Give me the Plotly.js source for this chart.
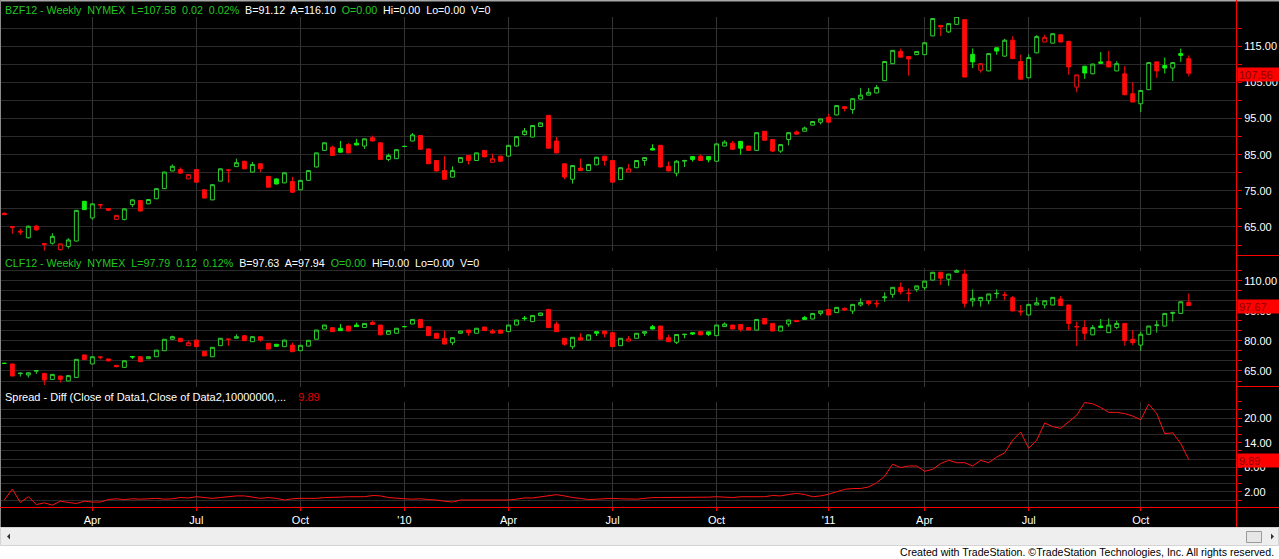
<!DOCTYPE html>
<html><head><meta charset="utf-8">
<script src="https://cdn.plot.ly/plotly-3.0.1.min.js"></script>
<style>html,body{margin:0;padding:0;background:#fff;overflow:hidden}#chart{width:1279px;height:559px}</style>
</head><body><div id="chart"></div>
<script>
// ---------- DATA (weekly bars) ----------
const startDate = '2009-01-16';   // first weekly bar (Friday)
const monthNames = ['Jan','Feb','Mar','Apr','May','Jun','Jul','Aug','Sep','Oct','Nov','Dec'];

const brentOpen = [68.8,65.1,63.8,62.0,65.2,60.4,60.5,58.7,59.6,61.1,
72.1,67.5,71.2,70.1,67.1,67.1,71.2,72.3,71.4,72.8,
75.6,80.5,80.9,78.3,80.9,75.3,72.5,77.7,80.8,81.7,
83.2,80.2,82.5,79.0,78.3,77.2,77.6,75.3,77.9,81.6,
86.2,87.1,86.7,87.8,88.2,87.4,89.7,88.3,83.7,83.9,
87.3,88.8,90.3,86.6,83.4,80.6,78.8,82.9,84.8,83.4,
86.2,82.9,84.6,84.6,87.4,90.6,89.9,92.8,95.9,88.8,
82.5,78.2,81.3,80.6,82.2,84.6,83.4,78.1,80.2,81.4,
83.4,86.7,87.6,81.8,79.9,83.2,84.5,84.6,84.5,83.2,
87.4,88.2,88.7,87.4,86.2,91.5,89.2,86.0,89.2,91.3,
91.5,93.2,94.0,95.4,96.0,98.3,97.5,100.4,101.5,102.1,
105.5,110.2,113.6,112.2,112.7,112.7,117.9,120.8,119.0,121.1,
122.4,112.8,108.4,108.2,114.6,112.3,116.7,110.8,106.3,113.2,
116.2,115.9,118.2,116.4,103.7,109.5,107.4,110.7,110.8,108.2,
107.4,101.9,99.1,103.0,110.7,109.7,109.0,113.0,111.6];
const brentHigh = [69.0,65.1,64.5,65.4,65.6,60.5,63.3,60.4,61.9,69.7,
72.2,71.5,71.3,70.2,68.3,70.2,72.6,72.4,72.7,75.7,
80.3,82.3,81.5,79.6,81.0,75.4,76.8,81.2,80.9,83.9,
83.3,83.0,82.6,79.1,78.4,80.1,78.9,78.0,80.7,85.6,
88.4,87.5,88.8,88.2,89.4,89.5,90.3,88.4,85.3,86.5,
87.4,91.0,90.4,86.7,83.5,84.6,81.8,84.3,84.9,85.6,
86.3,85.3,84.7,87.7,90.1,92.4,93.2,93.9,96.0,89.9,
82.6,82.1,83.9,82.4,84.4,84.7,83.5,81.5,82.4,83.5,
84.3,87.9,87.7,83.1,83.5,83.6,84.6,85.0,84.6,88.1,
89.0,88.8,88.8,87.5,91.2,91.6,89.3,87.9,91.2,91.7,
92.8,94.3,95.0,96.3,98.7,98.4,100.6,103.5,103.5,104.3,
110.9,114.0,114.4,112.3,113.7,116.1,122.8,120.9,121.4,123.4,
122.5,114.4,110.3,113.1,114.7,117.1,117.8,112.7,112.8,118.1,
118.2,118.6,118.3,116.5,107.2,109.6,110.2,113.4,113.7,110.9,
109.6,105.1,102.9,110.6,110.8,111.9,110.6,114.4,112.5];
const brentLow = [68.3,63.1,62.8,61.8,64.0,58.4,60.1,58.5,59.0,61.0,
69.7,67.0,70.0,69.5,67.0,66.8,70.5,69.3,71.3,72.7,
75.5,80.4,79.8,78.2,77.3,72.9,72.4,77.6,77.2,81.6,
81.0,80.1,80.2,75.9,76.8,77.1,74.5,75.2,77.8,81.5,
86.1,84.7,85.6,85.4,87.6,86.6,88.7,83.6,83.2,83.8,
87.2,88.7,86.4,82.4,80.4,78.1,78.7,82.8,82.3,83.3,
84.3,82.8,83.1,84.5,87.3,90.3,89.8,92.7,86.7,85.4,
78.2,77.0,80.5,80.5,82.1,82.0,77.3,78.0,80.1,81.3,
82.0,86.2,81.5,80.4,79.0,81.6,83.1,83.3,82.9,83.1,
87.3,86.4,85.0,86.1,86.1,88.9,85.7,85.5,87.6,90.6,
91.4,93.1,93.4,93.9,95.9,97.0,96.3,100.3,101.4,102.0,
105.4,110.1,111.9,106.9,112.6,112.6,117.8,117.9,118.7,121.0,
106.4,109.0,107.7,108.1,112.7,112.2,111.5,105.8,106.2,113.1,
116.1,115.8,116.1,107.1,102.3,106.0,107.3,110.2,109.2,108.1,
101.5,99.5,96.8,102.9,106.3,107.5,105.4,110.7,106.7];
const brentClose = [68.4,64.9,63.6,65.2,64.2,60.2,62.4,60.3,61.4,69.6,
69.8,71.4,71.1,69.6,68.2,70.0,72.5,69.4,72.6,75.6,
80.2,81.8,79.9,79.5,77.4,73.0,76.7,81.1,80.7,82.8,
81.1,82.3,81.1,76.0,76.9,80.0,74.6,77.9,80.6,85.5,
88.3,84.8,85.7,85.5,87.7,89.4,88.8,83.7,84.8,86.4,
87.3,90.5,86.5,82.5,80.5,78.2,80.6,84.2,83.4,85.5,
84.4,83.9,83.2,87.6,90.0,91.6,93.1,93.8,86.8,85.5,
78.8,82.0,80.6,82.3,84.3,83.4,77.4,81.4,81.1,83.4,
84.2,86.3,81.6,80.5,83.2,83.4,83.7,83.4,83.6,88.0,
88.5,86.5,86.8,86.2,91.1,89.0,86.0,87.8,91.1,90.7,
92.4,94.2,94.9,94.0,98.6,97.8,100.5,101.5,102.3,103.6,
110.8,113.9,112.0,111.5,113.6,116.0,122.7,120.4,121.3,123.3,
106.5,110.7,110.2,113.0,113.7,116.7,111.6,105.9,111.9,117.7,
117.5,118.5,116.2,109.3,107.1,107.6,110.1,110.3,109.3,110.2,
101.6,99.6,102.8,110.5,108.2,109.0,110.5,112.5,107.56];

const wtiOpen = [68.8,68.5,63.7,63.0,64.9,63.8,60.8,62.5,60.0,61.8,
73.0,68.5,72.0,71.0,67.8,66.8,72.2,72.1,71.1,72.1,
75.1,80.8,81.3,77.6,80.4,74.8,72.1,77.6,80.9,81.3,
82.6,79.6,82.1,78.8,78.3,77.1,77.9,75.1,77.4,80.8,
85.9,86.6,86.3,87.4,87.9,86.7,89.2,87.9,83.3,83.8,
87.1,88.4,90.7,87.1,83.8,81.3,79.1,83.8,85.4,83.8,
86.9,84.9,85.4,84.6,87.9,91.4,89.6,92.6,95.7,88.4,
81.3,77.1,81.6,80.4,84.6,84.9,84.1,77.6,79.9,81.3,
83.8,87.1,87.4,81.6,79.3,83.1,84.1,84.6,84.5,82.6,
87.1,87.9,88.2,86.7,85.4,91.2,88.7,84.9,88.4,90.2,
91.6,90.9,93.7,95.7,94.1,96.2,94.9,97.9,99.9,98.8,
101.5,103.2,106.7,103.8,105.7,106.5,110.3,114.2,110.7,114.2,
113.3,99.9,100.0,100.0,103.5,103.0,101.5,94.7,92.9,97.9,
97.9,97.9,100.9,97.9,87.2,86.7,83.0,87.4,84.1,86.7,
88.7,80.8,77.9,83.3,87.7,87.4,93.7,93.7,99.2];
const wtiHigh = [69.1,68.6,64.0,64.2,65.3,63.9,63.4,62.6,62.8,70.9,
73.1,72.2,72.1,71.1,67.9,70.2,72.3,72.2,72.2,75.5,
80.9,82.6,81.4,80.1,80.5,74.9,76.9,81.4,81.0,83.3,
82.7,82.2,82.2,78.9,78.4,80.5,79.1,77.9,80.4,85.5,
88.0,86.7,88.4,87.5,89.1,88.8,90.1,88.0,85.2,86.4,
87.2,90.8,90.8,87.2,83.9,85.1,81.7,85.0,85.5,86.4,
87.0,85.9,85.5,88.0,90.5,92.4,92.8,94.0,95.8,89.6,
81.4,81.9,83.8,83.1,84.7,85.0,84.2,81.4,82.4,83.9,
84.7,87.9,87.5,83.0,83.3,83.4,84.2,84.7,84.6,88.0,
89.2,88.0,88.3,86.8,90.8,91.3,88.8,87.5,90.5,90.3,
92.4,93.8,95.0,95.8,96.8,96.7,98.3,101.2,100.0,100.4,
104.2,106.8,109.2,106.2,107.5,109.9,114.3,114.3,113.4,115.7,
115.7,105.7,101.8,103.5,105.7,104.5,102.4,97.9,98.3,101.7,
100.1,101.8,102.4,98.0,89.6,90.4,87.9,90.9,91.2,90.1,
88.8,85.4,84.6,87.5,90.1,93.8,94.3,99.6,103.7];
const wtiLow = [68.5,62.4,62.2,61.7,63.5,58.0,60.7,59.2,59.9,61.7,
70.6,68.4,70.8,69.9,66.9,66.7,71.0,69.5,71.0,72.0,
75.0,80.7,79.5,77.5,77.0,72.4,72.0,77.5,77.6,81.2,
80.0,79.5,79.6,75.8,77.2,77.0,74.5,75.0,77.3,80.7,
85.8,84.5,85.0,84.8,87.0,86.6,88.1,82.9,83.2,83.7,
87.0,88.3,86.5,82.5,81.2,78.3,77.9,83.7,82.6,83.7,
85.0,83.8,83.7,84.5,87.8,90.1,89.5,92.5,86.5,84.5,
77.6,75.9,80.3,80.3,82.4,81.8,77.0,77.5,79.8,81.2,
82.4,85.8,80.7,79.5,78.4,81.3,83.0,82.9,82.4,82.5,
87.0,85.8,84.6,85.3,85.3,88.3,84.8,84.8,87.1,89.5,
90.6,90.8,92.6,92.8,94.0,94.9,93.4,97.1,97.6,96.7,
99.5,101.5,103.2,99.5,104.5,105.4,110.2,107.9,107.4,114.1,
96.7,97.1,97.1,98.2,101.2,100.4,94.8,92.6,92.8,97.8,
96.2,97.8,97.5,85.4,77.4,80.4,82.9,86.2,84.0,85.8,
77.6,77.9,75.1,83.2,84.1,87.3,89.6,93.6,97.4];
const wtiClose = [68.8,62.5,63.9,64.1,65.2,60.5,63.3,60.8,62.7,70.8,
70.7,72.1,71.9,70.0,67.1,70.1,72.0,69.6,72.1,75.4,
80.8,82.1,79.6,79.1,77.1,72.5,76.8,81.3,80.8,82.1,
80.1,82.1,80.4,75.9,77.3,80.4,74.6,77.8,80.3,85.4,
87.9,84.6,85.1,84.9,87.1,88.7,88.2,83.0,85.1,86.3,
87.1,90.7,86.6,82.6,81.3,78.4,81.6,84.9,84.1,86.3,
85.1,83.9,83.8,87.9,90.4,91.1,92.7,93.9,86.6,84.6,
78.3,81.8,80.4,83.0,83.8,83.5,77.1,81.3,81.0,83.8,
84.6,85.9,80.8,79.6,83.2,83.3,83.4,83.0,83.2,87.9,
88.4,85.9,85.7,85.4,90.7,88.4,84.9,87.4,90.4,89.6,
90.7,93.7,94.9,92.9,96.7,95.4,98.2,99.2,98.6,98.5,
101.9,106.7,104.5,103.7,107.4,109.8,114.2,111.2,113.3,115.0,
98.7,101.2,101.7,103.4,103.7,102.8,94.9,94.5,98.2,99.0,
100.0,101.7,97.6,88.7,87.0,83.8,86.6,86.7,87.9,88.7,
80.1,79.1,83.3,87.4,87.9,93.7,94.2,99.5,97.67];

const spread = [0.0,2.65,-0.6,0.8,-1.1,-0.7,-1.25,-0.3,-0.6,-0.85,
-0.3,-0.5,-0.5,0.1,0.3,0.1,0.3,0.2,0.3,0.4,
0.2,0.3,0.6,0.5,0.8,0.6,0.4,0.6,0.8,1.0,
1.0,0.7,0.4,0.6,0.4,0.0,0.3,0.4,0.4,0.4,
0.6,0.6,0.7,0.8,0.8,0.8,1.1,1.0,0.6,0.4,
0.3,0.2,0.3,0.1,0.0,-0.3,-0.5,0.0,0.0,-0.1,
-0.1,0.0,0.05,0.0,0.2,0.5,0.5,0.8,1.1,1.3,
1.0,0.6,0.4,0.1,0.2,0.3,0.4,0.3,0.2,0.2,
0.4,0.6,0.6,0.6,0.6,0.6,0.6,0.7,0.7,0.8,
0.7,0.6,0.8,0.8,0.8,0.8,1.1,1.0,1.35,1.6,
1.35,0.8,1.0,1.4,2.0,2.6,2.8,2.8,3.2,4.2,
5.8,8.75,7.9,8.3,8.3,7.0,7.5,8.9,9.7,9.1,
9.1,8.3,9.7,9.1,10.5,11.5,14.6,16.6,12.6,14.6,
18.8,17.9,17.5,19.1,20.7,23.8,23.5,22.6,21.4,21.4,
21.1,20.5,19.6,23.4,21.1,16.2,16.4,13.8,9.89];

// ---------- LAYOUT GEOMETRY ----------
const W = 1279, H = 559, ML = 0, MR = 42, MT = 0, MB = 52;
const PW = W - ML - MR, PH = H - MT - MB;
const fx = px => (px - ML) / PW;
const fy = py => (PH + MT - py) / PH;

const GREEN_H = '#2ed02e', GREEN_F = '#10f010', RED_H = '#f01010', RED_F = '#ff0a0a';
const GRID_Y = '#2b2b2b', GRID_X = '#353535';
const FONT = 'Liberation Sans, Arial, sans-serif';
const HDR_GREEN = '#22c822';

// dates & quarter ticks
const N = brentClose.length;
const [sy, sm, sd] = startDate.split('-').map(Number);
const t0 = Date.UTC(sy, sm - 1, sd);
const dates = Array.from({length: N}, (_, i) => new Date(t0 + i * 7 * 86400000));
const idx = dates.map((_, i) => i);
const tickIdx = [], tickText = [];
for (let i = 1; i < N; i++) {
  const m = dates[i].getUTCMonth(), pm = dates[i - 1].getUTCMonth();
  if (m !== pm && m % 3 === 0) {
    tickIdx.push(i);
    tickText.push(m === 0 ? "'" + String(dates[i].getUTCFullYear()).slice(2) : monthNames[m]);
  }
}

function candleTraces(O, Hh, L, C, ya) {
  const groups = {hg: [], fg: [], hr: [], fr: []};
  for (let i = 0; i < C.length; i++) {
    const prev = i > 0 ? C[i - 1] : O[i];
    const up = C[i] >= prev;
    const hollow = C[i] > O[i];
    groups[(hollow ? 'h' : 'f') + (up ? 'g' : 'r')].push(i);
  }
  const styles = {
    hg: {line: GREEN_H, fill: '#000000'}, fg: {line: GREEN_F, fill: GREEN_F},
    hr: {line: RED_H, fill: '#000000'}, fr: {line: RED_F, fill: RED_F}
  };
  return Object.keys(groups).filter(k => groups[k].length).map(k => {
    const g = groups[k], st = styles[k];
    const side = {line: {color: st.line, width: 1}, fillcolor: st.fill};
    return {
      type: 'candlestick', x: g, open: g.map(i => O[i]), high: g.map(i => Hh[i]),
      low: g.map(i => L[i]), close: g.map(i => C[i]), xaxis: 'x', yaxis: ya,
      increasing: side, decreasing: side, whiskerwidth: 0, showlegend: false, hoverinfo: 'skip'
    };
  });
}

const traces = [
  ...candleTraces(brentOpen, brentHigh, brentLow, brentClose, 'y'),
  ...candleTraces(wtiOpen, wtiHigh, wtiLow, wtiClose, 'y2'),
  {type: 'scatter', mode: 'lines', x: idx, y: spread, xaxis: 'x', yaxis: 'y3',
   line: {color: '#ff1010', width: 1}, showlegend: false, hoverinfo: 'skip'}
];

const yCommon = {
  side: 'right', anchor: 'x', showline: false, zeroline: false, gridcolor: GRID_Y, gridwidth: 1,
  ticks: 'outside', ticklen: 4, tickcolor: '#ff0000', tickwidth: 1, tickformat: '.2f',
  tickfont: {family: FONT, size: 11, color: '#ffffff'}, fixedrange: true
};
const minor = d => ({dtick: d, tick0: 0, ticks: 'outside', ticklen: 4, tickcolor: '#ff0000', showgrid: true, gridcolor: GRID_Y, gridwidth: 1});

const shapes = [];
function rectPx(x0, y0, x1, y1, fill, line) {
  shapes.push({type: 'rect', xref: 'paper', yref: 'paper', x0: fx(x0), x1: fx(x1), y0: fy(y1), y1: fy(y0),
    fillcolor: fill, line: line ? {color: line, width: 1} : {width: 0}, layer: 'above'});
}
function linePx(x0, y0, x1, y1, color, w) {
  shapes.push({type: 'line', xref: 'paper', yref: 'paper', x0: fx(x0), x1: fx(x1), y0: fy(y0), y1: fy(y1),
    line: {color: color, width: w || 1}, layer: 'above'});
}
function pathPx(pts, fill) {
  const d = pts.map((p, i) => (i ? 'L' : 'M') + fx(p[0]) + ',' + fy(p[1])).join(' ') + ' Z';
  shapes.push({type: 'path', xref: 'paper', yref: 'paper', path: d, fillcolor: fill, line: {width: 0}, layer: 'above'});
}
// frame
linePx(0, 0.75, W, 0.75, '#a8a8a8', 1.5);
linePx(0.5, 0, 0.5, 527, '#8a8a8a', 1);
linePx(1236.5, 0, 1236.5, 527, '#ff0000', 1);
linePx(1236.5, 255.5, W, 255.5, '#ff0000', 1);
linePx(1236.5, 386.5, W, 386.5, '#ff0000', 1);
linePx(0, 507.5, W, 507.5, '#ff0000', 1);
// scrollbar + footer
rectPx(0, 527, W, H, '#ffffff');
rectPx(0.5, 527.5, W - 0.5, 545.5, '#eeeeee', '#d4d4d4');
rectPx(1246.5, 531.5, 1261.5, 542.5, '#e6e6e6', '#9a9a9a');
pathPx([[7, 536.5], [10, 533.5], [10, 539.5]], '#333333');
pathPx([[1274, 536.5], [1271, 533.5], [1271, 539.5]], '#333333');

const sp = '&nbsp; ';
const g = s => `<span style="color:${HDR_GREEN}">${s}</span>`;
const w = s => `<span style="color:#ffffff">${s}</span>`;
const hdr = (y, text, size) => ({xref: 'paper', yref: 'paper', x: fx(3), y: fy(y), xanchor: 'left', yanchor: 'middle',
  showarrow: false, text: text, font: {family: FONT, size: size, color: '#ffffff'}});
const priceBox = (ya, val) => ({xref: 'paper', yref: ya, x: 1, y: val, xanchor: 'left', yanchor: 'middle', yshift: -1.5,
  showarrow: false, text: val.toFixed(2), bgcolor: '#ff0000', borderpad: 1, width: 40, height: 11, align: 'left',
  font: {family: FONT, size: 11, color: '#8a0000'}});

const annotations = [
  hdr(10, g(['BZF12 - Weekly', 'NYMEX', 'L=107.58', '0.02', '0.02%'].join(sp)) + sp + w(['B=91.12', 'A=116.10'].join(sp)) + sp + g('O=0.00') + sp + w(['Hi=0.00', 'Lo=0.00', 'V=0'].join(sp)), 10.7),
  hdr(263, g(['CLF12 - Weekly', 'NYMEX', 'L=97.79', '0.12', '0.12%'].join(sp)) + sp + w(['B=97.63', 'A=97.94'].join(sp)) + sp + g('O=0.00') + sp + w(['Hi=0.00', 'Lo=0.00', 'V=0'].join(sp)), 10.7),
  hdr(396.5, w('Spread - Diff (Close of Data1,Close of Data2,10000000,...') + sp + '&nbsp;&nbsp;' + `<span style="color:#e00000">${spread[N - 1].toFixed(2)}</span>`, 11),
  priceBox('y', brentClose[N - 1]),
  priceBox('y2', wtiClose[N - 1]),
  priceBox('y3', spread[N - 1]),
  {xref: 'paper', yref: 'paper', x: fx(1276), y: fy(551.5), xanchor: 'right', yanchor: 'middle', showarrow: false,
   text: 'Created with TradeStation. ©TradeStation Technologies, Inc. All rights reserved.',
   font: {family: FONT, size: 10.6, color: '#000000'}}
];

const layout = {
  width: W, height: H, margin: {l: ML, r: MR, t: MT, b: MB, pad: 0},
  paper_bgcolor: '#000000', plot_bgcolor: '#000000', showlegend: false, hovermode: false,
  font: {family: FONT, size: 11, color: '#ffffff'},
  boxgap: 0.3, boxgroupgap: 0.3,
  xaxis: {type: 'linear', domain: [0, 1], anchor: 'y3', range: [-0.54, 154.03], rangeslider: {visible: false},
    tickmode: 'array', tickvals: tickIdx, ticktext: tickText, showgrid: true, gridcolor: GRID_X, gridwidth: 1,
    zeroline: false, showline: false, ticks: 'outside', ticklen: 3, tickcolor: '#ff0000',
    tickfont: {family: FONT, size: 11, color: '#ffffff'}, fixedrange: true},
  yaxis: Object.assign({}, yCommon, {domain: [fy(251), fy(17)], range: [58.34, 123.13], tick0: 5, dtick: 10, minor: minor(5)}),
  yaxis2: Object.assign({}, yCommon, {domain: [fy(386.7), fy(268)], range: [57.16, 116.33], tick0: 5, dtick: 15, minor: minor(5)}),
  yaxis3: Object.assign({}, yCommon, {domain: [0, fy(401.5)], range: [-1.71, 24.05], tick0: 2, dtick: 6, minor: minor(2)}),
  shapes: shapes, annotations: annotations
};

Plotly.newPlot('chart', traces, layout, {displayModeBar: false, staticPlot: true});
</script>
</body></html>
